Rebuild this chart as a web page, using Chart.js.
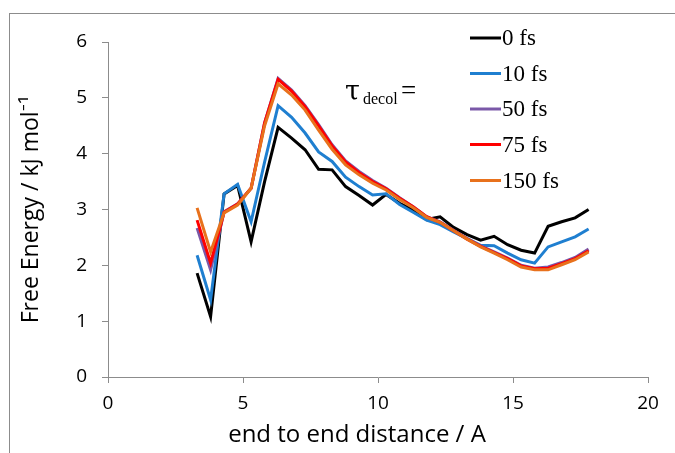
<!DOCTYPE html>
<html>
<head>
<meta charset="utf-8">
<script src="https://cdn.jsdelivr.net/npm/chart.js@4.4.0/dist/chart.umd.min.js"></script>
<style>
  html, body { margin: 0; padding: 0; background: #fff; }
  #wrap { position: relative; width: 675px; height: 453px; overflow: hidden; }
  #frame { position: absolute; left: 9px; top: 13px; width: 700px; height: 500px;
           border-left: 1px solid #8c8c8c; border-top: 1px solid #8c8c8c; pointer-events: none; }
  canvas { position: absolute; left: 0; top: 0; }
</style>
</head>
<body>
<div id="wrap">
  <canvas id="c" width="675" height="453"></canvas>
  <div id="frame"></div>
</div>
<script>
// ---- data ----
const distances = [3.3, 3.8, 4.3, 4.8, 5.3, 5.8, 6.3, 6.8, 7.3, 7.8, 8.3, 8.8, 9.3, 9.8, 10.3,
                   10.8, 11.3, 11.8, 12.3, 12.8, 13.3, 13.8, 14.3, 14.8, 15.3, 15.8, 16.3, 16.8, 17.3, 17.8];
const fe0fs   = [1.86, 1.08, 3.28, 3.43, 2.42, 3.50, 4.47, 4.28, 4.07, 3.72, 3.71, 3.41, 3.25, 3.08, 3.27,
                 3.11, 2.99, 2.82, 2.87, 2.68, 2.55, 2.45, 2.52, 2.37, 2.27, 2.22, 2.70, 2.78, 2.85, 3.00];
const fe10fs  = [2.18, 1.38, 3.28, 3.45, 2.78, 3.85, 4.86, 4.65, 4.37, 4.03, 3.86, 3.58, 3.41, 3.26, 3.28,
                 3.09, 2.95, 2.81, 2.73, 2.60, 2.48, 2.36, 2.35, 2.22, 2.10, 2.04, 2.33, 2.42, 2.51, 2.65];
const fe50fs  = [2.67, 1.92, 2.96, 3.10, 3.38, 4.55, 5.35, 5.14, 4.86, 4.52, 4.16, 3.87, 3.68, 3.52, 3.38,
                 3.21, 3.05, 2.87, 2.78, 2.63, 2.48, 2.35, 2.24, 2.13, 2.00, 1.95, 1.97, 2.05, 2.14, 2.29];
const fe75fs  = [2.81, 2.04, 2.95, 3.10, 3.38, 4.55, 5.33, 5.12, 4.84, 4.50, 4.14, 3.85, 3.66, 3.50, 3.37,
                 3.20, 3.05, 2.87, 2.77, 2.62, 2.47, 2.34, 2.23, 2.12, 1.99, 1.94, 1.95, 2.03, 2.12, 2.26];
const fe150fs = [3.03, 2.24, 2.94, 3.08, 3.38, 4.50, 5.25, 5.05, 4.78, 4.42, 4.08, 3.80, 3.62, 3.47, 3.35,
                 3.18, 3.03, 2.86, 2.77, 2.62, 2.47, 2.33, 2.22, 2.10, 1.97, 1.92, 1.92, 2.01, 2.10, 2.24];
const seriesLabels = ['0 fs', '10 fs', '50 fs', '75 fs', '150 fs'];
const seriesColors = ['#000000', '#1f7fd0', '#7a58a8', '#ff0000', '#e8711c'];
const xTicks = [0, 5, 10, 15, 20];
const yTicks = [0, 1, 2, 3, 4, 5, 6];

const allSeries = [fe0fs, fe10fs, fe50fs, fe75fs, fe150fs];
const datasets = allSeries.map((vals, i) => ({
  label: seriesLabels[i],
  data: vals.map((v, j) => ({ x: distances[j], y: v })),
  borderColor: seriesColors[i],
  backgroundColor: seriesColors[i],
  borderWidth: 3,
  pointRadius: 0,
  tension: 0,
  fill: false,
  order: 5 - i
}));

const SANS = '"Open Sans", Lato, sans-serif';
const SERIF = '"Liberation Serif", "DejaVu Serif", serif';

const overlay = {
  id: 'overlay',
  afterDraw(chart) {
    const ctx = chart.ctx;
    ctx.save();
    // legend
    const ds = chart.data.datasets;
    const rowY = [38, 73.5, 109, 144.5, 180.5];
    ds.forEach((d, i) => {
      const y = rowY[i];
      ctx.strokeStyle = d.borderColor;
      ctx.lineWidth = 3;
      ctx.beginPath();
      ctx.moveTo(470, y);
      ctx.lineTo(501, y);
      ctx.stroke();
      ctx.fillStyle = '#000';
      ctx.font = '23px ' + SERIF;
      ctx.textBaseline = 'alphabetic';
      ctx.textAlign = 'left';
      ctx.fillText(d.label, 502, y + 7);
    });
    // tau label
    ctx.fillStyle = '#000';
    ctx.font = '27px "DejaVu Serif", serif';
    ctx.fillText('τ', 345, 100);
    ctx.font = '16px ' + SERIF;
    ctx.fillText('decol', 363, 104);
    ctx.font = '27px ' + SERIF;
    ctx.fillText('=', 401, 99);
    // x axis title
    ctx.font = '24px ' + SANS;
    ctx.textAlign = 'center';
    ctx.textBaseline = 'middle';
    ctx.fillText('end to end distance / A', 357, 435);
    ctx.restore();
  }
};

new Chart(document.getElementById('c'), {
  type: 'line',
  data: { datasets },
  plugins: [overlay],
  options: {
    responsive: false,
    animation: false,
    layout: { padding: { left: 0, top: 42, right: 27, bottom: 0 } },
    plugins: { legend: { display: false }, tooltip: { enabled: false } },
    scales: {
      x: {
        type: 'linear',
        min: 0, max: 20,
        afterFit(s) { s.height = 76; },
        afterBuildTicks(s) { s.ticks = xTicks.map(v => ({ value: v })); },
        grid: { display: true, drawOnChartArea: false, drawTicks: true, tickLength: 6, color: '#8c8c8c', lineWidth: 1 },
        border: { display: true, color: '#8c8c8c', width: 1 },
        ticks: { color: '#000', font: { family: SANS, size: 19 }, padding: 9, maxRotation: 0 }
      },
      y: {
        type: 'linear',
        min: 0, max: 6,
        afterFit(s) { s.width = 108; },
        afterBuildTicks(s) { s.ticks = yTicks.map(v => ({ value: v })); },
        grid: { display: true, drawOnChartArea: false, drawTicks: true, tickLength: 6, color: '#8c8c8c', lineWidth: 1 },
        border: { display: true, color: '#8c8c8c', width: 1 },
        ticks: { color: '#000', font: { family: SANS, size: 19 }, padding: 15 },
        title: { display: true, text: 'Free Energy / kJ mol⁻¹', color: '#000',
                 font: { family: SANS, size: 23 }, padding: { top: 18, bottom: 0 } }
      }
    }
  }
});
</script>
</body>
</html>
